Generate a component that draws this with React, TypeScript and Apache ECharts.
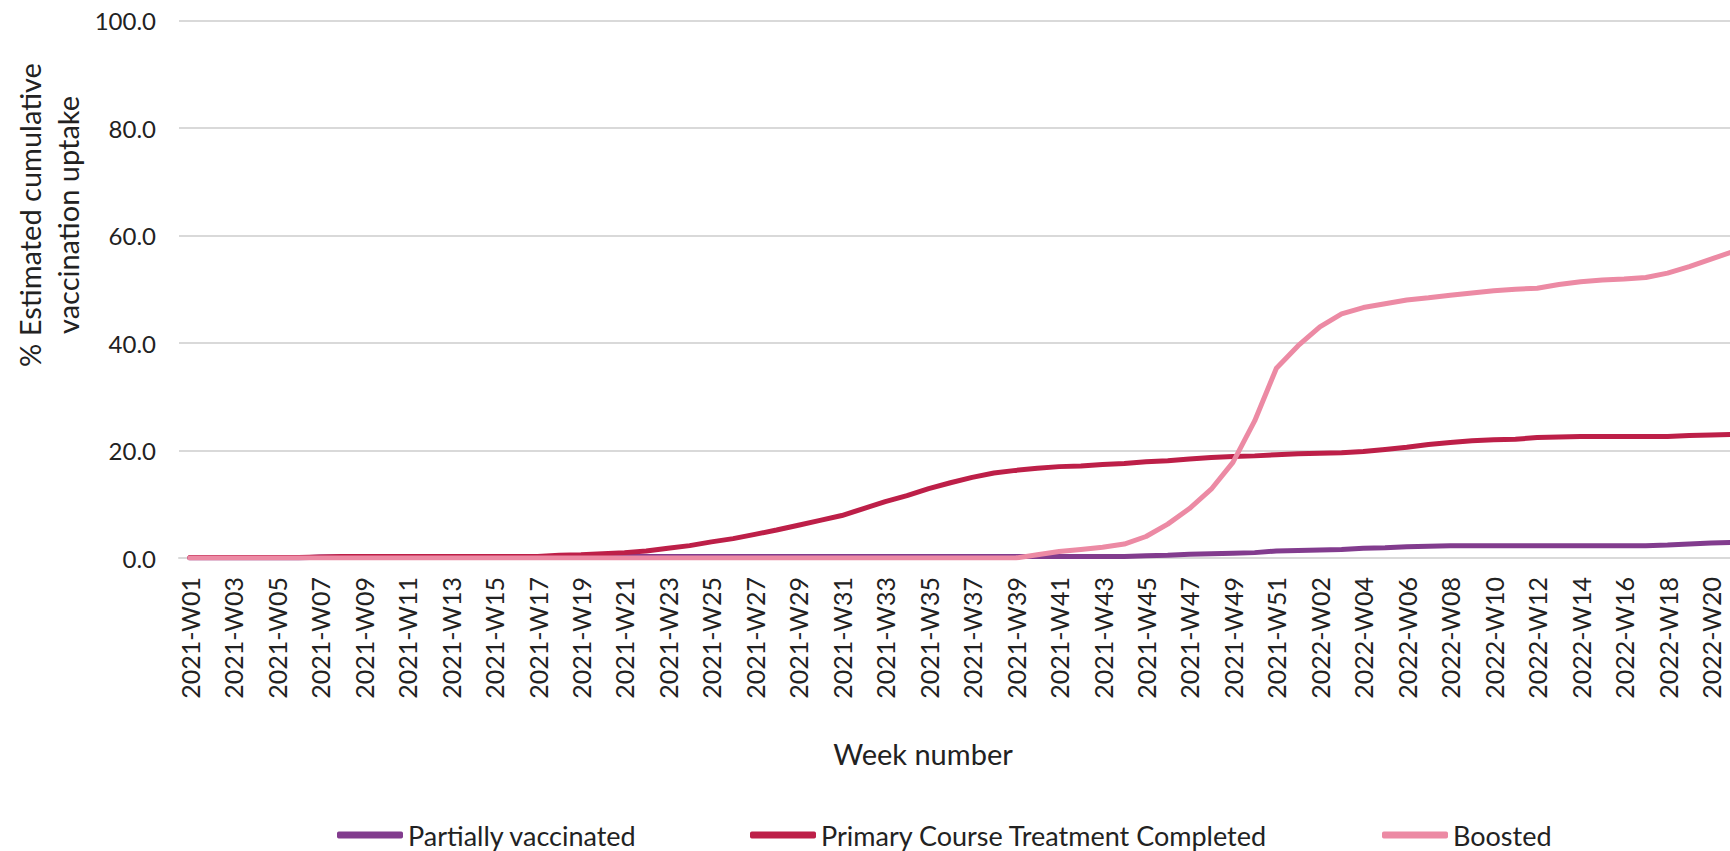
import React, { useEffect, useRef } from "react";
import * as echarts from "echarts";

const weeks = [
  "2021-W01", "2021-W02", "2021-W03", "2021-W04", "2021-W05", "2021-W06", "2021-W07", "2021-W08", "2021-W09", "2021-W10",
  "2021-W11", "2021-W12", "2021-W13", "2021-W14", "2021-W15", "2021-W16", "2021-W17", "2021-W18", "2021-W19", "2021-W20",
  "2021-W21", "2021-W22", "2021-W23", "2021-W24", "2021-W25", "2021-W26", "2021-W27", "2021-W28", "2021-W29", "2021-W30",
  "2021-W31", "2021-W32", "2021-W33", "2021-W34", "2021-W35", "2021-W36", "2021-W37", "2021-W38", "2021-W39", "2021-W40",
  "2021-W41", "2021-W42", "2021-W43", "2021-W44", "2021-W45", "2021-W46", "2021-W47", "2021-W48", "2021-W49", "2021-W50",
  "2021-W51", "2022-W01", "2022-W02", "2022-W03", "2022-W04", "2022-W05", "2022-W06", "2022-W07", "2022-W08", "2022-W09",
  "2022-W10", "2022-W11", "2022-W12", "2022-W13", "2022-W14", "2022-W15", "2022-W16", "2022-W17", "2022-W18", "2022-W19",
  "2022-W20", "2022-W21",
];

const partiallyVaccinated = [
  0.0, 0.0, 0.0, 0.0, 0.0, 0.0, 0.2, 0.2, 0.2, 0.2,
  0.2, 0.2, 0.2, 0.2, 0.2, 0.2, 0.2, 0.2, 0.2, 0.2,
  0.3, 0.3, 0.3, 0.3, 0.3, 0.3, 0.3, 0.3, 0.3, 0.3,
  0.3, 0.3, 0.3, 0.3, 0.3, 0.3, 0.3, 0.3, 0.3, 0.3,
  0.3, 0.3, 0.3, 0.3, 0.4, 0.5, 0.7, 0.8, 0.9, 1.0,
  1.3, 1.4, 1.5, 1.6, 1.8, 1.9, 2.1, 2.2, 2.3, 2.3,
  2.3, 2.3, 2.3, 2.3, 2.3, 2.3, 2.3, 2.3, 2.4, 2.6,
  2.8, 2.9,
];

const primaryCourseCompleted = [
  0.1, 0.1, 0.1, 0.1, 0.1, 0.1, 0.2, 0.3, 0.3, 0.3,
  0.3, 0.3, 0.3, 0.3, 0.3, 0.3, 0.3, 0.5, 0.6, 0.8,
  1.0, 1.3, 1.8, 2.3, 3.0, 3.6, 4.4, 5.2, 6.1, 7.0,
  7.9, 9.2, 10.5, 11.6, 12.9, 14.0, 15.0, 15.8, 16.3, 16.7,
  17.0, 17.1, 17.4, 17.6, 17.9, 18.1, 18.4, 18.7, 18.9, 19.0,
  19.2, 19.4, 19.5, 19.6, 19.8, 20.2, 20.6, 21.1, 21.5, 21.8,
  22.0, 22.1, 22.4, 22.5, 22.6, 22.6, 22.6, 22.6, 22.6, 22.8,
  22.9, 23.0,
];

const boosted = [
  0.0, 0.0, 0.0, 0.0, 0.0, 0.0, 0.0, 0.0, 0.0, 0.0,
  0.0, 0.0, 0.0, 0.0, 0.0, 0.0, 0.0, 0.0, 0.0, 0.0,
  0.0, 0.0, 0.0, 0.0, 0.0, 0.0, 0.0, 0.0, 0.0, 0.0,
  0.0, 0.0, 0.0, 0.0, 0.0, 0.0, 0.0, 0.0, 0.0, 0.6,
  1.2, 1.6, 2.0, 2.6, 4.0, 6.3, 9.2, 12.8, 17.8, 25.5,
  35.3, 39.5, 43.0, 45.4, 46.6, 47.3, 48.0, 48.4, 48.9, 49.3,
  49.7, 50.0, 50.2, 50.9, 51.4, 51.7, 51.9, 52.2, 53.0, 54.2,
  55.6, 57.0,
];

const seriesNames = ["Partially vaccinated", "Primary Course Treatment Completed", "Boosted"];
const seriesColors = ["#823C8E", "#BD1F48", "#EC8AA4"];
const seriesData = [partiallyVaccinated, primaryCourseCompleted, boosted];
const legendLefts = [337, 750, 1382];

const FONT = "Lato, 'Noto Sans', sans-serif";
const TEXT = "#222222";

export default function App() {
  const ref = useRef<HTMLDivElement>(null);

  useEffect(() => {
    if (!ref.current) return;
    const chart = echarts.init(ref.current, null, { renderer: "svg" });
    chart.setOption({
      animation: false,
      backgroundColor: "#ffffff",
      textStyle: { fontFamily: FONT },
      grid: { left: 179, top: 20.5, width: 1564.6, height: 537.5, containLabel: false },
      xAxis: {
        type: "category",
        data: weeks,
        boundaryGap: true,
        axisLine: { lineStyle: { color: "#d9d9d9", width: 2 } },
        axisTick: { show: false },
        splitLine: { show: false },
        axisLabel: {
          rotate: 90,
          interval: 1,
          fontSize: 25,
          fontFamily: FONT,
          color: TEXT,
          margin: 19,
        },
      },
      yAxis: {
        type: "value",
        min: 0,
        max: 100,
        interval: 20,
        axisLine: { show: false },
        axisTick: { show: false },
        splitLine: { lineStyle: { color: "#d9d9d9", width: 2 } },
        axisLabel: {
          formatter: (v: number) => v.toFixed(1),
          fontSize: 24,
          fontFamily: FONT,
          color: TEXT,
          margin: 23,
        },
      },
      legend: seriesNames.map((name, i) => ({
        left: legendLefts[i],
        top: 820,
        padding: 0,
        data: [name],
        icon: "roundRect",
        itemWidth: 66,
        itemHeight: 7,
        itemGap: 0,
        selectedMode: false,
        textStyle: { fontSize: 27, lineHeight: 30, fontFamily: FONT, color: TEXT },
      })),
      graphic: [
        {
          type: "text",
          x: 923,
          y: 753,
          style: {
            text: "Week number",
            fontSize: 29,
            fontFamily: FONT,
            fill: TEXT,
            align: "center",
            verticalAlign: "middle",
          },
        },
        {
          type: "text",
          x: 48,
          y: 215,
          rotation: Math.PI / 2,
          style: {
            text: "% Estimated cumulative\nvaccination uptake",
            fontSize: 29,
            lineHeight: 38,
            fontFamily: FONT,
            fill: TEXT,
            align: "center",
            verticalAlign: "middle",
          },
        },
      ],
      series: seriesNames.map((name, i) => ({
        type: "line",
        name,
        data: seriesData[i],
        showSymbol: false,
        symbol: "none",
        smooth: false,
        color: seriesColors[i],
        lineStyle: { width: 5, color: seriesColors[i], cap: "round", join: "round" },
        itemStyle: { color: seriesColors[i] },
        emphasis: { disabled: true },
      })),
    });
    return () => chart.dispose();
  }, []);

  return (
    <div
      style={{
        position: "fixed",
        left: 0,
        top: 0,
        width: 1730,
        height: 851,
        overflow: "hidden",
        background: "#ffffff",
      }}
    >
      <div ref={ref} style={{ width: 1760, height: 851 }} />
    </div>
  );
}
